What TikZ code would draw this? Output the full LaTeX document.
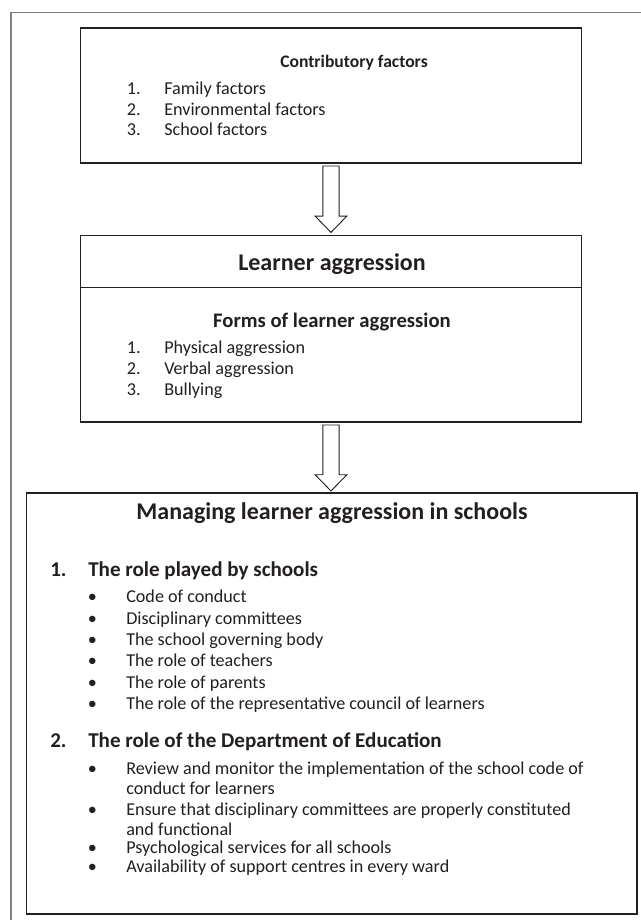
\documentclass[tikz,border=0pt]{standalone}
\usepackage{fontspec}
\setmainfont{Carlito}
\usetikzlibrary{calc}
\definecolor{ink}{HTML}{231F20}
\definecolor{framegray}{HTML}{808080}
\begin{document}
\begin{tikzpicture}[x=0.75pt,y=-0.75pt,
  box/.style={draw=ink, line width=0.8pt, fill=white, inner sep=0pt, outer sep=0pt},
  body/.style={anchor=base west, inner sep=0pt, text=ink, font=\fontsize{13.6}{15}\selectfont},
  headtxt/.style={anchor=base west, inner sep=0pt, text=ink, font=\fontsize{15.8}{17}\selectfont\bfseries},
  ctitle/.style={anchor=base, inner sep=0pt, text=ink, font=\fontsize{#1}{#1}\selectfont\bfseries},
  blt/.style={anchor=base, inner sep=0pt, text=ink, font=\fontsize{13.6}{15}\selectfont},
  barrow/.style={draw=ink, line width=0.7pt, fill=white, line join=miter}
]
\useasboundingbox (0,0) rectangle (641,920);
\draw[framegray, line width=0.8pt] (11,921) -- (11,12.7) -- (642,12.7);

% boxes
\node[box, minimum width=375.5pt, minimum height=101.25pt] (contrib) at (331,95.5) {};
\node[box, minimum width=375.5pt, minimum height=139.7pt] (aggr) at (331,328.85) {};
\draw[ink, line width=0.8pt] ($(aggr.north west)+(0,52)$) -- ($(aggr.north east)+(0,52)$);
\node[box, minimum width=457.7pt, minimum height=315.75pt] (manage) at (331.85,703.5) {};

% block arrows
\draw[barrow] let \p1=(contrib.south), \p2=(aggr.north) in
  (\x1-6.1pt,\y1-2.25pt) -- (\x1+6.1pt,\y1-2.25pt) -- (\x1+6.1pt,\y2+14.7pt) -- (\x1+11.9pt,\y2+14.7pt)
  -- (\x1,\y2+2.5pt) -- (\x1-11.9pt,\y2+14.7pt) -- (\x1-6.1pt,\y2+14.7pt) -- cycle;
\draw[barrow] let \p1=(aggr.south), \p2=(manage.north) in
  (\x1-6.1pt,\y1-2.25pt) -- (\x1+6.1pt,\y1-2.25pt) -- (\x1+6.1pt,\y2+13.7pt) -- (\x1+11.9pt,\y2+13.7pt)
  -- (\x1,\y2+1.5pt) -- (\x1-11.9pt,\y2+13.7pt) -- (\x1-6.1pt,\y2+13.7pt) -- cycle;

% top box text
\node[ctitle=13.2] (t1) at (354,67.5) {Contributory factors};
\node[body] (n11) at (126.7,95) {1.};  \node[body] (i11) at (164,95) {Family factors};
\node[body] (n12) at (126.7,116) {2.}; \node[body] (i12) at (164,116) {Environmental factors};
\node[body] (n13) at (126.7,136) {3.}; \node[body] (i13) at (164,136) {School factors};

% middle box text
\node[ctitle=18] (t2) at (332,270) {Learner aggression};
\node[ctitle=15.5] (t3) at (332,327) {Forms of learner aggression};
\node[body] (n21) at (126.7,353) {1.}; \node[body] (i21) at (164,353) {Physical aggression};
\node[body] (n22) at (126.7,374) {2.}; \node[body] (i22) at (164,374) {Verbal aggression};
\node[body] (n23) at (126.7,395) {3.}; \node[body] (i23) at (164,395) {Bullying};

% bottom box text
\node[ctitle=18] (t4) at (332,519) {Managing learner aggression in schools};
\node[headtxt] (h1n) at (50,576.5) {1.}; \node[headtxt] (h1) at (88,576.5) {The role played by schools};
\node[blt] (b11) at (92.3,602.5) {•}; \node[body] (s11) at (126,602.5) {Code of conduct};
\node[blt] (b12) at (92.3,624.5) {•}; \node[body] (s12) at (126,624.5) {Disciplinary committees};
\node[blt] (b13) at (92.3,645.5) {•}; \node[body] (s13) at (126,645.5) {The school governing body};
\node[blt] (b14) at (92.3,666.5) {•}; \node[body] (s14) at (126,666.5) {The role of teachers};
\node[blt] (b15) at (92.3,688) {•};   \node[body] (s15) at (126,688) {The role of parents};
\node[blt] (b16) at (92.3,709.5) {•}; \node[body] (s16) at (126,709.5) {The role of the representative council of learners};
\node[headtxt] (h2n) at (50,747.5) {2.}; \node[headtxt] (h2) at (88,747.5) {The role of the Department of Education};
\node[blt] (b21) at (92.3,774) {•}; \node[body] (s21) at (126,774) {Review and monitor the implementation of the school code of};
\node[body] (s21b) at (126,794) {conduct for learners};
\node[blt] (b22) at (92.3,815.5) {•}; \node[body] (s22) at (126,815.5) {Ensure that disciplinary committees are properly constituted};
\node[body] (s22b) at (126,835.5) {and functional};
\node[blt] (b23) at (92.3,853) {•}; \node[body] (s23) at (126,853) {Psychological services for all schools};
\node[blt] (b24) at (92.3,872) {•}; \node[body] (s24) at (126,872) {Availability of support centres in every ward};
\end{tikzpicture}
\end{document}
